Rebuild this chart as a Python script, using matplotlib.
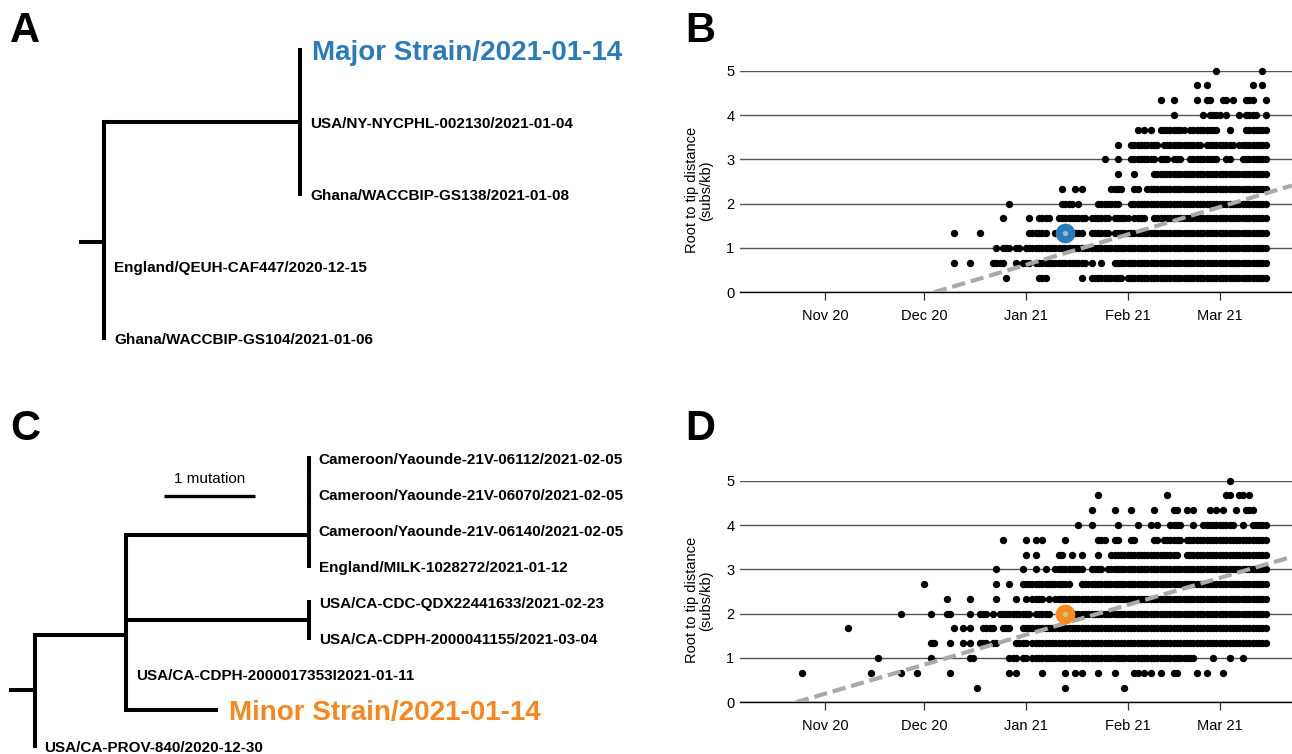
import numpy as np
import matplotlib
matplotlib.use("Agg")
import matplotlib.pyplot as plt
import matplotlib.dates as mdates

plt.rcParams['font.family'] = ['Liberation Sans', 'DejaVu Sans']

FIG_W, FIG_H = 1292, 754

# ---------------- 数据 ----------------
# root-to-tip 距离的取值层 (subs/kb)，从上到下
dist_levels = [5.0, 4.67, 4.33, 4.0, 3.67, 3.33, 3.0, 2.67, 2.33, 2.0, 1.67, 1.33, 1.0, 0.67, 0.33]

# B: 每行一个距离层，每个字符一天（从 b_start 开始），'o' 表示该天有样本
b_start = "2020-12-01"
b_rows = [
    ".......... .......... .......... .......... .......... .......... .......... .......... .........o .......... ...o.",
    ".......... .......... .......... .......... .......... .......... .......... .......... ...o..o... .......... o..o.",
    ".......... .......... .......... .......... .......... .......... .......... ..o...o... ...o..oo.. .oo.o...oo o...o",
    ".......... .......... .......... .......... .......... .......... .......... ......o... .....o.ooo o.o...o.oo oo..o",
    ".......... .......... .......... .......... .......... .......... .....o.o.o ..oooooooo .ooooooooo ...o....oo ooooo",
    ".......... .......... .......... .......... .......... .........o ...ooooooo oo.ooooooo ooooo.oooo ooooo.oooo ooooo",
    ".......... .......... .......... .......... .......... .....o...o ...ooooooo o.ooo.ooo. .ooooooooo ..oo...ooo ooooo",
    ".......... .......... .......... .......... .......... .........o ....o..... oooooooooo oooooooooo oooooooooo ooooo",
    ".......... .......... .......... .......... ..o...o.o. .......ooo o...oo..oo oooooooooo oooooooooo oooooooooo ooooo",
    ".......... .......... ......o... .......... ..oooo.o.. ...ooooooo ...ooooooo oooooooooo oooooooooo oooooooooo ooooo",
    ".......... .......... ....o..... ..o..oooo. .ooooooooo .oooooo.oo ooo.oooo.. oooooooooo oooooooooo oooooooooo ooooo",
    ".........o .......o.. .......... ..oooooo.. oooo.oooo. .oooooo.oo oooooooooo oooooooooo oooooooooo oooooooooo ooooo",
    ".......... .......... ..o.ooo.oo .ooooooooo oooooooooo oooooooooo oooooooooo oooooooooo oooooooooo oooooooooo ooooo",
    ".........o ....o..... .oooo...o. ooo.oooooo oooooooooo .o..o...oo oooooooooo oooooooooo oooooooooo oooooooooo ooooo",
    ".......... .......... .....o.... .....ooo.. ........o. .ooooooooo o.oooooooo oooooooooo oooooooooo oooooooooo ooooo",
]

# D: 同上，从 d_start 开始
d_start = "2020-10-22"
d_rows = [
    ".......... .......... .......... .......... .......... .......... .......... .......... .......... .......... .......... .......... .......... ...o...... .....",
    ".......... .......... .......... .......... .......... .......... .......... .......... .......... ...o...... .......... ....o..... .......... ..oo..oo.o .....",
    ".......... .......... .......... .......... .......... .......... .......... .......... .......... .o......o. ...o...... o.....oo.. o.o....o.o .o...o..oo o....",
    ".......... .......... .......... .......... .......... .......... .......... .......... .......o.. .o.......o .....o...o .o...oooo. ..o..ooooo ooooo..o.. ooooo",
    ".......... .......... .......... .......... .......... .......... ....o..... .o..o.o... ...o...... ...ooo..oo ...oo..... oo.oooooo. oooooooooo oooooooooo ooooo",
    ".......... .......... .......... .......... .......... .......... .......... .o..o..... .oo..o..o. ...o...ooo oooooooooo oooooooo.. oooooooooo oooooooooo ooooo",
    ".......... .......... .......... .......... .......... .......... ..o....... o...o..o.. ooooooooo. .oooo.oooo oooooooooo oooooooooo oooooooooo oooooooooo ooooo",
    ".......... .......... .......... .......... o......... .......... ..o...o... oooooooooo ooooo...oo oooooooooo oooooooooo oooooooooo oooooooooo oooooooooo ooooo",
    ".......... .......... .......... .......... .......o.. ....o..... ..o.....o. .o.oooo.o. oooooooooo oooooooooo oooooooooo oooooooooo oooooooooo oooooooooo ooooo",
    ".......... .......... .......... ...o...... ..o....oo. ....o..ooo .o.ooooooo ooo.ooooo. ......oooo oooooooooo oooooooooo oooooooooo oooooooooo oooooooooo ooooo",
    ".......... .......o.. .......... .......... .........o ..o.o...oo oo..ooo... oooooooooo oooooooooo oooooooooo oooooooooo oooooooooo oooooooooo oooooooooo ooooo",
    ".......... .......... .......... .......... ..oo....o. ..o.o..ooo .oo.....oo oo.ooooooo oooooooooo oooooooooo oooooooooo oooooooooo oooooooooo oooooooooo ooooo",
    ".......... .......... ......o... .......... ..o....... ....oo.... ......ooo. oo.ooooooo oooooooooo oooooooooo oooooooooo oooooooooo ooo.....o. ...o...o.. .....",
    "...o...... .......... ....o..... ...o....o. ........o. .......... ......o.o. ......o... ...o..o.o. ...o....o. ....oo.o.o ..o...oo.. ...o..o... .o........ .....",
    ".......... .......... .......... .......... .......... ......o... .......... .......... ...o...... .......... .o........ .......... .......... .......... .....",
]

# 回归线：根日期(距离为0) 与 速率 (subs/kb/天)
b_root_date, b_rate = "2020-12-04", 0.0221
d_root_date, d_rate = "2020-10-23", 0.02175

# 高亮样本
major_date, major_dist = "2021-01-13", 1.33
minor_date, minor_dist = "2021-01-13", 2.0

month_ticks = ["2020-11-01", "2020-12-01", "2021-01-01", "2021-02-01", "2021-03-01"]
x_range = ("2020-10-06", "2021-03-23")

# 系统发育树: (名称, 枝长/突变数, 子节点)
tree_a = ("", 0.26, [
    ("", 2.0, [
        ("Major Strain/2021-01-14", 0.0, []),
        ("USA/NY-NYCPHL-002130/2021-01-04", 0.0, []),
        ("Ghana/WACCBIP-GS138/2021-01-08", 0.0, []),
    ]),
    ("England/QEUH-CAF447/2020-12-15", 0.0, []),
    ("Ghana/WACCBIP-GS104/2021-01-06", 0.0, []),
])

tree_c = ("", 0.28, [
    ("", 1.0, [
        ("", 2.0, [
            ("", 0.0, [
                ("", 0.0, [
                    ("Cameroon/Yaounde-21V-06112/2021-02-05", 0.0, []),
                    ("Cameroon/Yaounde-21V-06070/2021-02-05", 0.0, []),
                ]),
                ("Cameroon/Yaounde-21V-06140/2021-02-05", 0.0, []),
            ]),
            ("England/MILK-1028272/2021-01-12", 0.0, []),
        ]),
        ("", 2.0, [
            ("USA/CA-CDC-QDX22441633/2021-02-23", 0.0, []),
            ("USA/CA-CDPH-2000041155/2021-03-04", 0.0, []),
        ]),
        ("USA/CA-CDPH-2000017353I2021-01-11", 0.0, []),
        ("Minor Strain/2021-01-14", 1.0, []),
    ]),
    ("USA/CA-PROV-840/2020-12-30", 0.0, []),
])

highlight = {"Major Strain/2021-01-14": "#2a7bba", "Minor Strain/2021-01-14": "#f8861e"}
major_color, major_inner = "#2a7bba", "#94bfe0"
minor_color, minor_inner = "#fb8a1c", "#a9d6a3"


def px_axes(fig, left, top, right, bottom):
    """按像素框创建坐标轴"""
    return fig.add_axes([left / FIG_W, 1 - bottom / FIG_H,
                         (right - left) / FIG_W, (bottom - top) / FIG_H])


def layout_tree(node, x_parent, counter, hsegs, vsegs, tips):
    """递归计算节点坐标"""
    name, length, children = node
    x = x_parent + length
    if not children:
        y = counter[0]
        counter[0] += 1
        tips.append((name, x, y))
    else:
        ys = [layout_tree(c, x, counter, hsegs, vsegs, tips) for c in children]
        y = sum(ys) / len(ys)
        vsegs.append((x, min(ys), max(ys)))
    if length > 0:
        hsegs.append((x_parent, x, y))
    return y


def draw_tree(ax, tree):
    hsegs, vsegs, tips = [], [], []
    layout_tree(tree, 0.0, [0], hsegs, vsegs, tips)
    for x0, x1, y in hsegs:
        ax.plot([x0, x1], [y, y], color='black', lw=2.9, solid_capstyle='butt')
    for x, y0, y1 in vsegs:
        ax.plot([x, x], [y0, y1], color='black', lw=2.9, solid_capstyle='projecting')
    for name, x, y in tips:
        if name in highlight:
            ax.annotate(name, (x, y), xytext=(8, -7.2), textcoords='offset points',
                        fontsize=20, fontweight='bold', color=highlight[name], va='baseline')
        else:
            ax.annotate(name, (x, y), xytext=(7, -4), textcoords='offset points',
                        fontsize=11, fontweight='bold', color='black', va='baseline')
    ax.axis('off')


def rows_to_points(rows, start):
    """把字符行转换为 (日期, 距离) 点"""
    t0 = np.datetime64(start)
    dates, vals = [], []
    for level, row in zip(dist_levels, rows):
        for i, ch in enumerate(row.replace(" ", "")):
            if ch == "o":
                dates.append(t0 + np.timedelta64(i, "D"))
                vals.append(level)
    return mdates.date2num(np.array(dates, dtype="datetime64[D]")), np.array(vals)


def draw_rtt(ax, rows, start, root_date, rate, hl_date, hl_dist, hl_color, hl_inner):
    xs, ys = rows_to_points(rows, start)
    ax.scatter(xs, ys, s=28, color='black', linewidths=0, zorder=3, clip_on=False)

    x0, x1 = mdates.date2num(np.array(x_range, dtype="datetime64[D]"))
    ax.set_xlim(x0, x1)
    ax.set_ylim(0, 5)

    # 回归线
    t_root = mdates.date2num(np.datetime64(root_date))
    ax.plot([t_root, x1], [0, rate * (x1 - t_root)], color='#a9a9a9', lw=3,
            dashes=(3.2, 1.4), zorder=4, clip_on=True)

    # 高亮样本
    t_hl = mdates.date2num(np.datetime64(hl_date))
    ax.scatter([t_hl], [hl_dist], s=200, color=hl_color, linewidths=0, zorder=5)
    ax.scatter([t_hl], [hl_dist], s=14, color=hl_inner, linewidths=0, zorder=6)

    ax.set_yticks(range(6))
    ax.grid(axis='y', color='#555555', lw=1.0)
    ax.set_axisbelow(True)
    ax.set_xticks(mdates.date2num(np.array(month_ticks, dtype="datetime64[D]")))
    ax.xaxis.set_major_formatter(mdates.DateFormatter('%b %y'))
    for s in ['top', 'right', 'left']:
        ax.spines[s].set_visible(False)
    ax.spines['bottom'].set_color('black')
    ax.spines['bottom'].set_linewidth(1.0)
    ax.tick_params(axis='y', length=0, pad=4, labelsize=10.5)
    ax.tick_params(axis='x', length=6, width=0.9, color='#333333', pad=6, labelsize=10.5)
    ax.set_ylabel("Root to tip distance\n(subs/kb)", fontsize=10.5, linespacing=1.05)
    ax.yaxis.set_label_coords(-0.048, 0.46)


def main():
    fig = plt.figure(figsize=(FIG_W / 100, FIG_H / 100), dpi=100)

    # A: 主株系统树
    ax_a = px_axes(fig, 0, 0, 680, 380)
    ax_a.set_xlim(-79 / 98, (680 - 79) / 98)
    ax_a.set_ylim((380 - 50) / 72, (0 - 50) / 72)
    draw_tree(ax_a, tree_a)

    # C: 次株系统树
    ax_c = px_axes(fig, 0, 400, 680, 754)
    ax_c.set_xlim(-9 / 91.5, (680 - 9) / 91.5)
    ax_c.set_ylim((754 - 458) / 36, (400 - 458) / 36)
    draw_tree(ax_c, tree_c)
    # 比例尺
    ax_c.plot([1.69, 2.69], [1.05, 1.05], color='black', lw=2.4, solid_capstyle='butt')
    ax_c.text(2.19, 0.58, "1 mutation", fontsize=11, ha='center', va='center')

    # B / D: root-to-tip 回归
    ax_b = px_axes(fig, 740, 70.7, 1292, 292.3)
    draw_rtt(ax_b, b_rows, b_start, b_root_date, b_rate,
             major_date, major_dist, major_color, major_inner)
    ax_d = px_axes(fig, 740, 480.7, 1292, 702.3)
    draw_rtt(ax_d, d_rows, d_start, d_root_date, d_rate,
             minor_date, minor_dist, minor_color, minor_inner)

    # 面板字母
    for letter, px, py in [("A", 10, 42), ("B", 685, 42), ("C", 10, 440), ("D", 685, 440)]:
        fig.text(px / FIG_W, 1 - py / FIG_H, letter, fontsize=30, fontweight='bold',
                 ha='left', va='baseline')

    fig.savefig("out.png", dpi=100)


if __name__ == '__main__':
    main()
